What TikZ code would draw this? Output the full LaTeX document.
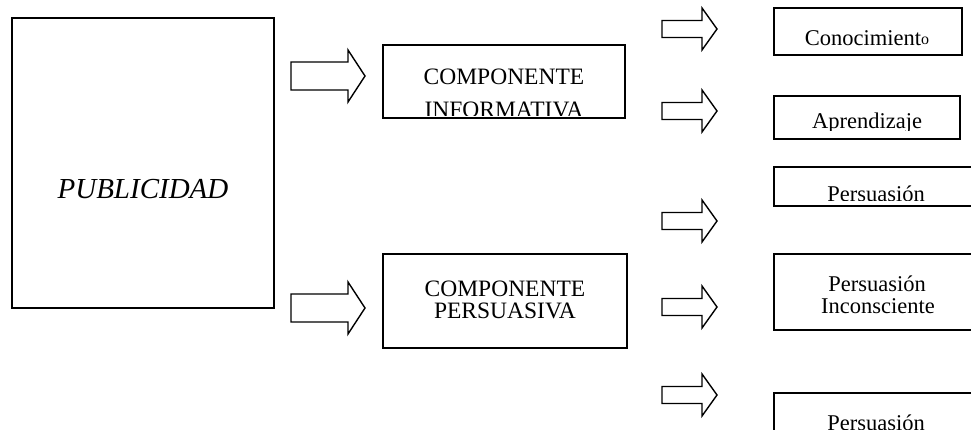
\documentclass[tikz,border=0pt]{standalone}
\usepackage{fontspec}
\setmainfont{Liberation Serif}
\begin{document}
\begin{tikzpicture}[x=1pt,y=-1pt,
  box/.style={draw, line width=1.5pt, inner sep=0pt, outer sep=0pt, minimum width=#1},
  txt/.style={inner sep=0pt, anchor=base, font=\fontsize{23.5}{23.5}\selectfont},
  rtxt/.style={inner sep=0pt, anchor=base, font=\fontsize{22.5}{22.5}\selectfont},
  arr/.style={draw, line width=1.4pt, line join=miter},
  bigarrow/.pic={\draw[arr] (0,14) -- (57,14) -- (57,26) -- (74,0) -- (57,-26) -- (57,-14) -- (0,-14) -- cycle;},
  smallarrow/.pic={\draw[arr] (0,8.5) -- (40,8.5) -- (40,21) -- (55,0) -- (40,-21) -- (40,-8.5) -- (0,-8.5) -- cycle;}]
\useasboundingbox (0,0) rectangle (971,430);
\clip (0,0) rectangle (971,430);
% left box
\node[box=262pt, minimum height=290pt] (pub) at (143,163) {};
\node[inner sep=0pt, anchor=base, font=\fontsize{29}{29}\selectfont\itshape] (pubt) at (143,199) {PUBLICIDAD};
% arrows from PUBLICIDAD
\pic (a1) at (291,76) {bigarrow};
\pic (a2) at (291,308) {bigarrow};
% component boxes
\node[txt] (inf1) at (504,85) {COMPONENTE};
\begin{scope}
  \clip (383,45) rectangle (625,116);
  \node[txt] (inf2) at (504,118) {INFORMATIVA};
\end{scope}
\node[box=242pt, minimum height=73pt] (inf) at (504,81.5) {};
\node[box=244pt, minimum height=94pt] (per) at (505,301) {};
\node[txt] (per1) at (505,296) {COMPONENTE};
\node[txt] (per2) at (505,318) {PERSUASIVA};
% small arrows
\pic (s1) at (662,29) {smallarrow};
\pic (s2) at (662,111) {smallarrow};
\pic (s3) at (662,221) {smallarrow};
\pic (s4) at (662,307) {smallarrow};
\pic (s5) at (662,395) {smallarrow};
% right boxes
\node[box=188pt, minimum height=47pt] (con) at (868,31.5) {};
\node[rtxt] (cont) at (867,46) {Conocimient\raisebox{1.5pt}{\fontsize{16}{16}\selectfont o}};
\begin{scope}
  \clip (774,96) rectangle (960,131);
  \node[rtxt] (aprt) at (867,128.5) {Aprendizaje};
\end{scope}
\node[box=186pt, minimum height=43pt] (apr) at (867,117.5) {};
\begin{scope}
  \clip (774,167) rectangle (990,201);
  \node[rtxt] (p1t) at (876,202) {Persuasión};
\end{scope}
\node[box=206pt, minimum height=39pt] (p1) at (877,186.5) {};
\node[box=206pt, minimum height=76pt] (pi) at (877,292) {};
\node[rtxt] (pit1) at (877,291) {Persuasión};
\node[rtxt] (pit2) at (878,313) {Inconsciente};
\node[box=206pt, minimum height=60pt] (p2) at (877,423) {};
\node[rtxt] (p2t) at (876,430) {Persuasión};
\end{tikzpicture}
\end{document}
